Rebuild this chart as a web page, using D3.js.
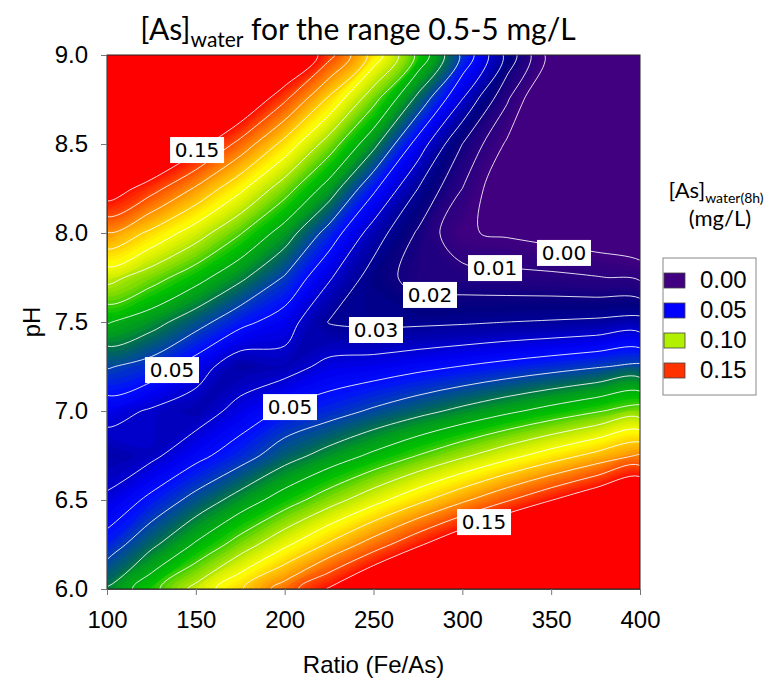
<!DOCTYPE html>
<html lang="en">
<head>
<meta charset="utf-8">
<title>[As]water for the range 0.5-5 mg/L</title>
<script src="https://cdn.jsdelivr.net/npm/d3@7/dist/d3.min.js"></script>
<style>
  body { margin: 0; background: #fff; }
  svg text { font-family: "Liberation Sans", Arial, sans-serif; }
</style>
</head>
<body>
<script>
// data: [As]water (mg/L) on a ratio x pH grid
const ratios = [100, 125, 150, 175, 200, 225, 250, 275, 300, 325, 350, 375, 400];
const pHs = [6.0, 6.25, 6.5, 6.75, 7.0, 7.25, 7.5, 7.75, 8.0, 8.25, 8.5, 8.75, 9.0];
// one row per pH (6.0 first), one column per ratio
const asWater = [
  [0.0708, 0.0869, 0.1029, 0.1189, 0.1349, 0.1510, 0.1670, 0.1830, 0.1990, 0.2151, 0.2311, 0.2471, 0.2632],
  [0.0544, 0.0678, 0.0812, 0.0946, 0.1080, 0.1214, 0.1348, 0.1482, 0.1617, 0.1751, 0.1885, 0.2019, 0.2153],
  [0.0418, 0.0526, 0.0634, 0.0742, 0.0850, 0.0957, 0.1065, 0.1173, 0.1281, 0.1389, 0.1496, 0.1604, 0.1712],
  [0.0331, 0.0378, 0.0470, 0.0555, 0.0657, 0.0739, 0.0820, 0.0902, 0.0983, 0.1065, 0.1147, 0.1228, 0.1310],
  [0.0440, 0.0388, 0.0345, 0.0435, 0.0515, 0.0558, 0.0614, 0.0669, 0.0724, 0.0780, 0.0835, 0.0890, 0.0946],
  [0.0609, 0.0560, 0.0452, 0.0330, 0.0357, 0.0428, 0.0445, 0.0474, 0.0503, 0.0532, 0.0561, 0.0591, 0.0620],
  [0.0808, 0.0739, 0.0640, 0.0530, 0.0450, 0.0295, 0.0278, 0.0281, 0.0288, 0.0300, 0.0308, 0.0318, 0.0335],
  [0.1036, 0.0943, 0.0838, 0.0721, 0.0592, 0.0412, 0.0255, 0.0156, 0.0144, 0.0132, 0.0123, 0.0106, 0.0082],
  [0.1294, 0.1177, 0.1048, 0.0907, 0.0754, 0.0560, 0.0353, 0.0188, 0.0010, -0.0015, -0.0045, -0.0079, -0.0129],
  [0.1581, 0.1440, 0.1287, 0.1122, 0.0945, 0.0757, 0.0520, 0.0300, 0.0100, -0.0110, -0.0150, -0.0226, -0.0302],
  [0.1897, 0.1732, 0.1555, 0.1366, 0.1166, 0.0953, 0.0729, 0.0460, 0.0200, -0.0015, -0.0233, -0.0335, -0.0437],
  [0.2242, 0.2053, 0.1853, 0.1640, 0.1415, 0.1179, 0.0931, 0.0671, 0.0399, 0.0115, -0.0180, -0.0405, -0.0533],
  [0.2617, 0.2404, 0.2179, 0.1943, 0.1694, 0.1434, 0.1162, 0.0878, 0.0582, 0.0275, -0.0045, -0.0376, -0.0592]
];
const lineLevels = [0.00, 0.01, 0.02, 0.03, 0.04, 0.05, 0.06, 0.07, 0.08, 0.09, 0.10, 0.11, 0.12, 0.13, 0.14, 0.15];
// colour ramp stops
const rampValues = [0.000, 0.015, 0.025, 0.035, 0.045, 0.052, 0.060, 0.068, 0.075, 0.085, 0.095, 0.105, 0.112, 0.125, 0.135, 0.145, 0.152];
const rampColors = ["#400080", "#200080", "#000080", "#0000b0", "#0000f0", "#0010ff", "#0040b0", "#006858",
  "#009a20", "#00c000", "#80dc00", "#d8f000", "#ffff00", "#ffb000", "#ff7000", "#ff3000", "#ff0000"];
// contour labels
const labelText = ["0.15", "0.00", "0.01", "0.02", "0.03", "0.05", "0.05", "0.15"];
const labelRatio = [150.7, 357.2, 318.4, 281.8, 251.4, 136.6, 203.0, 312.2];
const labelPH = [8.466, 7.888, 7.803, 7.652, 7.455, 7.23, 7.022, 6.376];
// legend
const legendLevels = ["0.00", "0.05", "0.10", "0.15"];
const legendColors = ["#400080", "#0000ff", "#b0f000", "#ff3300"];

const width = 771, height = 683;
const margin = { top: 55, right: 131, bottom: 94, left: 107 };
const innerWidth = width - margin.left - margin.right;
const innerHeight = height - margin.top - margin.bottom;

const svg = d3.select("body").append("svg")
  .attr("width", width).attr("height", height);

const x = d3.scaleLinear().domain([100, 400]).range([margin.left, margin.left + innerWidth]);
const y = d3.scaleLinear().domain([6, 9]).range([margin.top + innerHeight, margin.top]);
const color = d3.scaleLinear().domain(rampValues).range(rampColors).clamp(true);

svg.append("clipPath").attr("id", "plotclip")
  .append("rect")
  .attr("x", margin.left).attr("y", margin.top)
  .attr("width", innerWidth).attr("height", innerHeight);

// grid -> chart coordinates (d3.contours puts sample i at i + 0.5)
const nx = ratios.length, ny = pHs.length;
const dR = ratios[1] - ratios[0], dP = pHs[1] - pHs[0];
const ringLine = d3.line().curve(d3.curveCatmullRomClosed.alpha(0.5));
function ringPath(ring) {
  const pts = ring.slice(0, -1).map(([gx, gy]) =>
    [x(ratios[0] + (gx - 0.5) * dR), y(pHs[0] + (gy - 0.5) * dP)]);
  return pts.length > 2 ? ringLine(pts) : "";
}
function contourPath(geom) {
  return geom.coordinates.map(poly => poly.map(ringPath).join("")).join("");
}
const values = asWater.flat();

const plot = svg.append("g").attr("clip-path", "url(#plotclip)");
plot.append("rect")
  .attr("x", margin.left).attr("y", margin.top)
  .attr("width", innerWidth).attr("height", innerHeight)
  .attr("fill", color(0));

const fillLevels = d3.range(0, 0.15, 0.002).concat([0.15]);
const bands = d3.contours().size([nx, ny]).thresholds(fillLevels)(values);
plot.selectAll("path.band")
  .data(bands)
  .join("path")
  .attr("class", "band")
  .attr("d", contourPath)
  .attr("fill", d => d.value >= 0.15 ? "#ff0000" : color(d.value + 0.001))
  .attr("stroke", d => d.value >= 0.15 ? "#ff0000" : color(d.value + 0.001))
  .attr("stroke-width", 0.5);

const lines = d3.contours().size([nx, ny]).thresholds(lineLevels)(values);
plot.selectAll("path.iso")
  .data(lines)
  .join("path")
  .attr("class", "iso")
  .attr("d", contourPath)
  .attr("fill", "none")
  .attr("stroke", "#ffffff")
  .attr("stroke-opacity", 0.85)
  .attr("stroke-width", 1);

// contour labels
const labels = plot.selectAll("g.lab")
  .data(labelText)
  .join("g")
  .attr("class", "lab")
  .attr("transform", (d, i) => `translate(${x(labelRatio[i])},${y(labelPH[i])})`);
labels.append("rect")
  .attr("x", -27).attr("y", -13).attr("width", 54).attr("height", 26)
  .attr("fill", "#fff");
labels.append("text")
  .attr("text-anchor", "middle").attr("dy", "0.37em")
  .style("font-family", "'DejaVu Sans', Verdana, sans-serif")
  .style("font-size", "20px")
  .attr("fill", "#000")
  .text(d => d);

// frame and axes
svg.append("rect")
  .attr("x", margin.left).attr("y", margin.top)
  .attr("width", innerWidth).attr("height", innerHeight)
  .attr("fill", "none").attr("stroke", "#222").attr("stroke-width", 1);

const xAxis = svg.append("g")
  .attr("transform", `translate(0,${margin.top + innerHeight})`)
  .call(d3.axisBottom(x).tickValues([100, 150, 200, 250, 300, 350, 400])
    .tickSize(6).tickSizeOuter(0).tickPadding(16).tickFormat(d3.format("d")));
const yAxis = svg.append("g")
  .attr("transform", `translate(${margin.left},0)`)
  .call(d3.axisLeft(y).tickValues([6, 6.5, 7, 7.5, 8, 8.5, 9])
    .tickSize(6).tickSizeOuter(0).tickPadding(13).tickFormat(d3.format(".1f")));
[xAxis, yAxis].forEach(g => {
  g.attr("font-size", null).attr("font-family", null);
  g.select(".domain").attr("stroke", "#444");
  g.selectAll(".tick line").attr("stroke", "#777");
  g.selectAll(".tick text").attr("fill", "#000")
    .style("font-family", "'Liberation Sans', Arial, sans-serif")
    .style("font-size", "24px");
});

svg.append("text")
  .attr("x", x(250)).attr("y", 673)
  .attr("text-anchor", "middle")
  .style("font-size", "24px")
  .text("Ratio (Fe/As)");
svg.append("text")
  .attr("transform", `translate(40,${y(7.5)}) rotate(-90)`)
  .attr("text-anchor", "middle")
  .style("font-size", "24px")
  .text("pH");

// title
const title = svg.append("text")
  .attr("x", 358).attr("y", 40)
  .attr("text-anchor", "middle")
  .style("font-family", "Lato, 'Open Sans', sans-serif")
  .style("font-size", "30px");
title.append("tspan").text("[As]");
title.append("tspan").attr("dy", 7).style("font-size", "21px").text("water");
title.append("tspan").attr("dy", -7).text(" for the range 0.5-5 mg/L");

// legend
const lg = svg.append("g");
const lgTitle = lg.append("text")
  .attr("x", 716).attr("y", 198)
  .attr("text-anchor", "middle")
  .style("font-family", "Lato, 'Open Sans', sans-serif")
  .style("font-size", "22px");
lgTitle.append("tspan").text("[As]");
lgTitle.append("tspan").attr("dy", 5).style("font-size", "14px").text("water(8h)");
lg.append("text")
  .attr("x", 720).attr("y", 226)
  .attr("text-anchor", "middle")
  .style("font-family", "Lato, 'Open Sans', sans-serif")
  .style("font-size", "22px")
  .text("(mg/L)");
lg.append("rect")
  .attr("x", 663).attr("y", 258).attr("width", 93).attr("height", 137)
  .attr("fill", "#fff").attr("stroke", "#888");
const items = lg.selectAll("g.item")
  .data(legendLevels)
  .join("g")
  .attr("class", "item")
  .attr("transform", (d, i) => `translate(664,${273 + i * 30})`);
items.append("rect")
  .attr("width", 21).attr("height", 15)
  .attr("fill", (d, i) => legendColors[i])
  .attr("stroke", "#444").attr("stroke-width", 0.8);
items.append("text")
  .attr("x", 36).attr("y", 15)
  .style("font-family", "'Liberation Sans', Arial, sans-serif")
  .style("font-size", "24px")
  .text(d => d);
</script>
</body>
</html>
